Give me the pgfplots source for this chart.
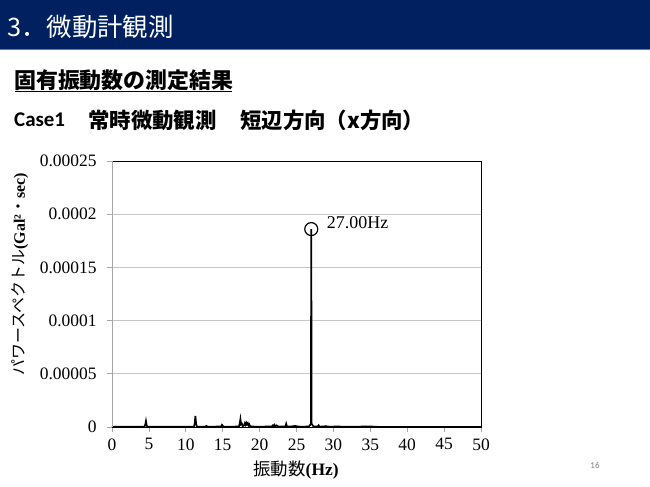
\documentclass[border=0pt]{standalone}
\usepackage{fontspec}
\usepackage{pgfplots}
\pgfplotsset{compat=1.18}
\setmainfont{Liberation Serif}
\newfontfamily\jp{Noto Sans CJK JP}
\newfontfamily\carl{Carlito}
\definecolor{navy}{HTML}{002060}

\begin{document}
\begin{tikzpicture}[x=1bp,y=1bp]
\path[use as bounding box, fill=white] (0,0) rectangle (650,487);
% slide header
\fill[navy] (0,438) rectangle (650,487);
\draw[navy!60!white, line width=0.8bp] (0,438) -- (650,438);
\node[anchor=west, text=white, inner sep=0pt] at (7,460)
  {\jp\fontsize{25.5}{29}\selectfont 3．微動計観測};
\node[anchor=west, inner sep=0pt] at (14,407)
  {\jp\bfseries\fontsize{22}{26}\selectfont 固有振動数の測定結果};
\draw[line width=1bp] (15,395) -- (232,395);
\node[anchor=west, inner sep=0pt] at (14,367) {\carl\bfseries\fontsize{21}{25}\selectfont Case1};
\node[anchor=west, inner sep=0pt] at (88,367)
  {\jp\bfseries\fontsize{21.5}{25}\selectfont 常時微動観測};
\node[anchor=west, inner sep=0pt] at (240,367)
  {\jp\bfseries\fontsize{21.5}{25}\selectfont 短辺方向（x方向）};
\node[text=gray, inner sep=0pt] at (595,21) {\carl\fontsize{9}{11}\selectfont 16};

\begin{axis}[
    at={(112bp,60bp)}, anchor=south west,
    scale only axis, width=369bp, height=266bp,
    xmin=0, xmax=50, ymin=0, ymax=0.00025,
    xtick={0,5,...,50},
    ytick={0,0.00005,0.0001,0.00015,0.0002,0.00025},
    yticklabels={0,0.00005,0.0001,0.00015,0.0002,0.00025},
    scaled y ticks=false,
    /pgf/number format/assume math mode=true,
    tick label style={font=\fontsize{17.5}{20}\selectfont},
    ymajorgrids, major grid style={draw=gray!45, line width=0.6bp},
    axis line style={draw=black, line width=0.9bp},
    tick style={draw=gray!70, line width=0.8bp},
    tick pos=left, tick align=outside,
    major tick length=5bp,
    xticklabel style={yshift=-3bp},
    yticklabel style={xshift=-7bp},
    clip=false,
]
\addplot[black, line width=1.7bp, line join=miter] coordinates {
 (0,0) (0.5,0.3e-6) (1,0.2e-6) (2,0.2e-6) (3,0.2e-6) (4.4,0.3e-6)
 (4.5,2e-6) (4.6,5.6e-6) (4.7,1.5e-6) (4.8,0.3e-6)
 (6,0.2e-6) (8,0.2e-6) (10,0.2e-6) (11.1,0.3e-6)
 (11.2,3e-6) (11.3,10.3e-6) (11.4,3e-6) (11.5,0.3e-6)
 (12.6,0.3e-6) (12.8,1e-6) (13,0.2e-6) (14,0.3e-6) (14.4,0.6e-6)
 (14.8,0.3e-6) (14.9,2e-6) (15,1.2e-6) (15.1,0.3e-6) (16,0.2e-6)
 (16.8,0.4e-6) (17.2,0.4e-6) (17.3,3e-6) (17.4,7.5e-6) (17.5,2.5e-6)
 (17.6,3e-6) (17.7,0.8e-6) (17.9,1.5e-6) (18,3.5e-6) (18.1,2e-6)
 (18.2,4e-6) (18.3,2.5e-6) (18.4,3.5e-6) (18.5,1.5e-6) (18.6,2.5e-6)
 (18.7,0.8e-6) (19,0.4e-6) (20,0.3e-6) (21,0.4e-6) (21.7,0.6e-6)
 (21.8,1.5e-6) (21.9,0.8e-6) (22,2e-6) (22.1,0.7e-6) (22.3,1.5e-6)
 (22.5,0.5e-6) (23,0.4e-6) (23.5,0.5e-6) (23.6,3e-6) (23.7,0.5e-6)
 (24.2,0.4e-6) (24.8,1e-6) (25.2,0.4e-6) (26,0.3e-6) (26.7,0.5e-6)
 (26.95,3e-6) (27,0.000186) (27.05,3e-6) (27.3,0.5e-6) (27.9,0.4e-6)
 (28,1.5e-6) (28.1,0.3e-6) (29,0.7e-6) (29.5,0.2e-6) (30.5,0.5e-6)
 (31.5,0.2e-6) (33,0.3e-6) (35,0.5e-6) (36,0.1e-6) (40,0.1e-6)
 (45,0.1e-6) (50,0.1e-6)
};
\addplot[only marks, mark=o, mark size=6.5bp, black, line width=1.2bp]
  coordinates {(27,0.000186)};
\node[anchor=west, inner sep=0pt, font=\fontsize{18}{21}\selectfont]
  at (axis cs:29.1,0.000192) {27.00Hz};
\draw[gray!70, line width=0.9bp] (axis cs:0,0) -- (axis cs:0,0.00025);
\end{axis}
\node at (296,17) {\jp\fontsize{17.5}{20}\selectfont 振動数\textbf{\rmfamily (Hz)}};
\node[rotate=90] at (20,213)
  {\jp\fontsize{16}{19}\selectfont パワースペクトル\textbf{\rmfamily (Gal²}・\textbf{\rmfamily sec)}};
\end{tikzpicture}
\end{document}
